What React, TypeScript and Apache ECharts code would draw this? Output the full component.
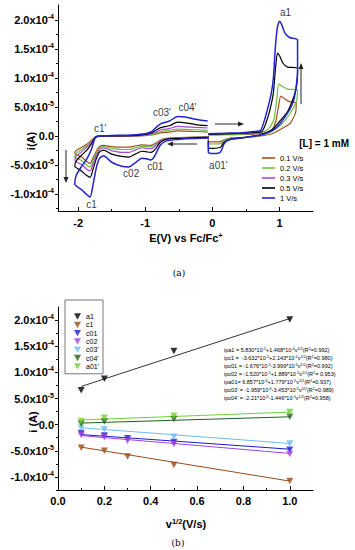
import React, { useEffect, useRef } from 'react';
import * as echarts from 'echarts';

const FONT = "'Liberation Sans', Arial, Helvetica, sans-serif";

// ---------- Panel (a): cyclic voltammograms, E (V vs Fc/Fc+), i in 1e-5 A ----------
const scanRates = ['0.1 V/s', '0.2 V/s', '0.3 V/s', '0.5 V/s', '1 V/s'];
const rateColors = ['#a4501e', '#6cc13c', '#a844e6', '#000000', '#2222d0'];

const cvLeft01 = [[-0.05,-0.1],[-0.3,-0.15],[-0.55,-0.25],[-0.7,-0.4],[-0.78,-0.7],[-0.84,-1.2],[-0.88,-1.45],[-0.92,-1.6],[-0.98,-1.55],[-1.05,-1.5],[-1.15,-1.7],[-1.24,-1.9],[-1.35,-1.9],[-1.5,-1.8],[-1.62,-1.6],[-1.68,-1.8],[-1.73,-2.6],[-1.78,-3.8],[-1.82,-4.7],[-1.87,-4.4],[-1.95,-3.6],[-2.05,-3.0],[-2.03,-2.5],[-1.96,-2.0],[-1.87,-1.4],[-1.8,-0.7],[-1.75,-0.2],[-1.7,0.0],[-1.2,0.0],[-1.0,0.1],[-0.9,0.2],[-0.83,0.4],[-0.76,0.6],[-0.64,0.7],[-0.52,0.9],[-0.4,0.85],[-0.25,0.8],[-0.07,0.7]];
const cvLeft02 = [[-0.05,-0.15],[-0.3,-0.2],[-0.55,-0.3],[-0.7,-0.45],[-0.78,-0.8],[-0.84,-1.4],[-0.88,-1.7],[-0.92,-1.85],[-0.98,-1.8],[-1.05,-1.75],[-1.15,-2.0],[-1.24,-2.3],[-1.35,-2.3],[-1.5,-2.1],[-1.62,-1.8],[-1.68,-2.0],[-1.73,-2.9],[-1.78,-4.3],[-1.82,-5.3],[-1.87,-5.0],[-1.95,-4.2],[-2.05,-3.6],[-2.03,-3.0],[-1.96,-2.4],[-1.87,-1.6],[-1.8,-0.8],[-1.75,-0.2],[-1.7,0.0],[-1.2,0.05],[-1.0,0.15],[-0.9,0.3],[-0.83,0.6],[-0.76,0.8],[-0.64,1.0],[-0.52,1.2],[-0.4,1.15],[-0.25,1.1],[-0.07,1.0]];
const cvLeft03 = [[-0.05,-0.2],[-0.3,-0.25],[-0.55,-0.35],[-0.7,-0.5],[-0.78,-0.9],[-0.84,-1.6],[-0.88,-2.0],[-0.92,-2.2],[-0.98,-2.1],[-1.05,-2.0],[-1.15,-2.4],[-1.24,-2.8],[-1.35,-2.8],[-1.5,-2.5],[-1.62,-2.0],[-1.68,-2.3],[-1.73,-3.3],[-1.78,-4.9],[-1.82,-6.0],[-1.87,-5.7],[-1.95,-4.9],[-2.05,-4.2],[-2.03,-3.5],[-1.96,-2.8],[-1.87,-1.9],[-1.8,-1.0],[-1.75,-0.2],[-1.7,0.0],[-1.2,0.05],[-1.0,0.2],[-0.9,0.45],[-0.83,0.8],[-0.76,1.1],[-0.64,1.3],[-0.52,1.7],[-0.4,1.6],[-0.25,1.5],[-0.07,1.4]];
const cvLeft05 = [[-0.05,-0.2],[-0.3,-0.3],[-0.55,-0.4],[-0.7,-0.6],[-0.78,-1.1],[-0.84,-2.1],[-0.88,-2.6],[-0.92,-2.8],[-0.98,-2.7],[-1.05,-2.6],[-1.15,-3.1],[-1.24,-3.6],[-1.35,-3.5],[-1.5,-3.1],[-1.62,-2.4],[-1.68,-2.7],[-1.73,-3.9],[-1.78,-5.8],[-1.82,-7.1],[-1.87,-6.8],[-1.95,-6.0],[-2.05,-5.2],[-2.03,-4.3],[-1.96,-3.4],[-1.87,-2.4],[-1.8,-1.3],[-1.75,-0.3],[-1.7,0.0],[-1.5,0.05],[-1.2,0.1],[-1.0,0.3],[-0.9,0.6],[-0.83,1.1],[-0.76,1.5],[-0.64,1.8],[-0.52,2.4],[-0.4,2.3],[-0.25,2.0],[-0.07,1.8]];
const cvLeft1 = [[-0.05,-0.3],[-0.3,-0.4],[-0.55,-0.6],[-0.7,-0.9],[-0.78,-1.6],[-0.84,-3.0],[-0.88,-3.8],[-0.92,-4.1],[-0.98,-3.9],[-1.05,-3.8],[-1.15,-4.6],[-1.24,-5.3],[-1.35,-5.2],[-1.5,-4.5],[-1.62,-3.4],[-1.68,-3.8],[-1.73,-5.5],[-1.78,-8.5],[-1.82,-10.5],[-1.87,-10.1],[-1.95,-9.2],[-2.05,-8.3],[-2.03,-6.8],[-1.96,-5.4],[-1.87,-3.9],[-1.8,-2.2],[-1.75,-0.4],[-1.7,0.0],[-1.5,0.1],[-1.2,0.2],[-1.0,0.4],[-0.9,0.8],[-0.83,1.6],[-0.76,2.2],[-0.64,2.6],[-0.52,3.4],[-0.4,3.3],[-0.25,2.9],[-0.07,2.6]];

const cvRight01 = [[-0.06,0.2],[0.2,0.25],[0.45,0.3],[0.65,0.4],[0.8,0.6],[0.9,1.3],[0.95,2.8],[0.99,5.4],[1.02,6.9],[1.07,6.5],[1.14,6.0],[1.25,5.7],[1.24,4.0],[1.16,2.2],[1.05,1.4],[0.91,0.5],[0.7,0.0],[0.5,-0.2],[0.3,-0.3],[0.22,-0.45],[0.16,-0.7],[0.12,-0.95],[0.0,-1.0],[-0.06,-0.95],[-0.06,-0.5]];
const cvRight02 = [[-0.06,0.25],[0.2,0.3],[0.45,0.35],[0.65,0.5],[0.78,0.8],[0.86,1.6],[0.92,3.0],[0.96,6.3],[0.99,9.0],[1.04,8.6],[1.12,8.1],[1.27,7.9],[1.25,5.9],[1.14,3.6],[1.02,1.9],[0.87,0.7],[0.7,0.1],[0.5,-0.2],[0.3,-0.35],[0.22,-0.5],[0.16,-0.9],[0.12,-1.3],[0.0,-1.35],[-0.06,-1.3],[-0.06,-0.6]];
const cvRight05 = [[-0.06,0.3],[0.2,0.4],[0.45,0.5],[0.62,0.6],[0.74,0.8],[0.8,2.3],[0.86,4.6],[0.91,7.5],[0.94,11.5],[0.97,14.3],[1.0,13.9],[1.05,12.6],[1.12,11.9],[1.27,11.7],[1.26,9.0],[1.22,7.0],[1.12,4.2],[1.0,2.5],[0.88,1.0],[0.7,0.2],[0.5,-0.2],[0.3,-0.45],[0.22,-0.7],[0.17,-1.1],[0.13,-1.8],[0.1,-2.0],[0.0,-2.1],[-0.06,-2.0],[-0.06,-0.8]];
const cvRight1 = [[-0.06,0.4],[0.2,0.5],[0.45,0.6],[0.62,0.8],[0.72,1.0],[0.77,2.5],[0.83,5.0],[0.88,7.5],[0.91,10],[0.94,15.5],[0.97,18.8],[1.0,19.8],[1.03,19.3],[1.08,17.8],[1.15,17.0],[1.27,16.6],[1.27,11],[1.22,6.5],[1.15,4.5],[1.08,3.3],[1.0,2.0],[0.9,1.0],[0.72,0.2],[0.5,-0.2],[0.3,-0.5],[0.22,-0.8],[0.17,-1.4],[0.13,-2.6],[0.1,-2.9],[0.0,-3.0],[-0.06,-2.8],[-0.06,-1.0]];

const cvLeft = [cvLeft01, cvLeft02, cvLeft03, cvLeft05, cvLeft1];
const cvRight = [cvRight01, cvRight02, null, cvRight05, cvRight1];

const eTicks = [-2, -1, 0, 1];
const eMinorTicks = [-1.5, -0.5, 0.5];

// Peak labels (text, E, i in 1e-5 A)
const peakLabels: [string, number, number][] = [
  ['a1', 1.09, 21.3], ["c1'", -1.67, 1.4], ["c03'", -0.75, 4.0], ["c04'", -0.37, 4.9],
  ['c02', -1.21, -6.5], ['c01', -0.85, -5.2], ['c1', -1.8, -11.7], ["a01'", 0.09, -5.0],
];

// ---------- Panel (b): peak currents vs v^1/2, i in 1e-5 A ----------
const bNames = ['a1', 'c1', 'c01', 'c02', "c03'", "c04'", "a01'"];
const bColors = ['#000000', '#9a4a18', '#1a1ad0', '#a040e0', '#6cbcf0', '#1f5f1f', '#72d030'];
const ptsA1 = [[0.1, 6.6], [0.2, 8.8], [0.5, 14.1], [1.0, 20.1]];
const ptsC1 = [[0.1, -4.4], [0.2, -5.0], [0.3, -6.1], [0.5, -7.7], [1.0, -10.8]];
const ptsC01 = [[0.1, -1.6], [0.2, -2.1], [0.3, -2.6], [0.5, -3.3], [1.0, -4.8]];
const ptsC02 = [[0.1, -2.0], [0.2, -2.4], [0.3, -3.1], [0.5, -3.7], [1.0, -5.6]];
const ptsC03 = [[0.1, -0.6], [0.2, -0.9], [0.5, -2.3], [1.0, -3.6]];
const ptsC04 = [[0.1, 0.2], [0.2, 0.6], [0.5, 1.1], [1.0, 1.5]];
const ptsA01 = [[0.1, 0.7], [0.2, 1.3], [0.5, 1.7], [1.0, 2.4]];
const fitA1 = [[0.1, 7.3], [1.0, 20.3]];
const fitC1 = [[0.1, -4.3], [1.0, -10.8]];
const fitC01 = [[0.1, -1.9], [1.0, -4.7]];
const fitC02 = [[0.1, -2.1], [1.0, -5.5]];
const fitC03 = [[0.1, -0.6], [1.0, -3.6]];
const fitC04 = [[0.1, 0.3], [1.0, 1.5]];
const fitA01 = [[0.1, 0.9], [1.0, 2.4]];
const bPoints = [ptsA1, ptsC1, ptsC01, ptsC02, ptsC03, ptsC04, ptsA01];
const bFits = [fitA1, fitC1, fitC01, fitC02, fitC03, fitC04, fitA01];
const vTicks = [0, 0.2, 0.4, 0.6, 0.8, 1.0];
const vMinorTicks = [0.1, 0.3, 0.5, 0.7, 0.9];

const equations = [
  'ipa1 = 5.830*10^{-5}+1.468*10^{-4}v^{1/2}(R^{2}=0.992)',
  'ipc1 =  -3.632*10^{-5}+2.143*10^{-5}v^{1/2}(R^{2}=0.980)',
  'ipc01 = -1.676*10^{-5}-3.999*10^{-5}v^{1/2}(R^{2}=0.992)',
  'ipc02 = -1.520*10^{-5}+1.889*10^{-5}v^{1/2}(R^{2}= 0.953)',
  'ipa01= 6.857*10^{-6}+1.779*10^{-5}v^{1/2}(R^{2}=0.937)',
  "ipc03' = -1.959*10^{-6}-3.453*10^{-5}v^{1/2}(R^{2}=0.989)",
  "ipc04' = -2.21*10^{-6}-1.446*10^{-5}v^{1/2}(R^{2}=0.958)",
];

// Shared current tick labels (value in 1e-5 A -> mantissa x 10^exp)
const iTicks = [-10, -5, 0, 5, 10, 15, 20];
const iTickMantissa = ['-1.0', '-5.0', '0.0', '5.0', '1.0', '1.5', '2.0'];
const iTickExponent = ['-4', '-5', '', '-5', '-4', '-4', '-4'];
const iMinorTicks = [-12.5, -7.5, -2.5, 2.5, 7.5, 12.5, 17.5];

const iLabel = (v: number) => {
  const k = iTicks.findIndex((t) => Math.abs(t - v) < 1e-6);
  if (k < 0) return '';
  return iTickExponent[k]
    ? `{m|${iTickMantissa[k]}x10}{s|${iTickExponent[k]}}`
    : `{m|${iTickMantissa[k]}}`;
};

const labelRich = {
  m: { fontSize: 11, fontWeight: 'bold', fontFamily: FONT, color: '#000', lineHeight: 14 },
  s: { fontSize: 7, fontWeight: 'bold', fontFamily: FONT, color: '#000', lineHeight: 7, verticalAlign: 'top' },
};

const toRich = (str: string) =>
  '{n|' + str.replace(/\^\{([^}]*)\}/g, '}{s|$1}{n|') + '}';

const mainAxisCommon = {
  type: 'value',
  axisLine: { show: true, onZero: false, lineStyle: { color: '#000', width: 1 } },
  splitLine: { show: false },
};
const minorAxisCommon = {
  type: 'value',
  axisLine: { show: false, onZero: false },
  splitLine: { show: false },
  axisLabel: { show: false },
};

const INV_TRIANGLE = 'path://M0,0 L10,0 L5,9 Z';

function buildOption() {
  const black = '#000';
  const xAxes: any[] = [
    {
      ...mainAxisCommon, gridIndex: 0, min: -2.3, max: 1.5, position: 'bottom',
      axisTick: { show: true, inside: true, length: 4, customValues: eTicks, lineStyle: { color: black } },
      axisLabel: { customValues: eTicks, margin: 6, fontSize: 11, fontWeight: 'bold', fontFamily: FONT, color: black },
    },
    {
      ...minorAxisCommon, gridIndex: 0, min: -2.3, max: 1.5, position: 'bottom',
      axisTick: { show: true, inside: true, length: 2, customValues: eMinorTicks, lineStyle: { color: black } },
    },
    {
      ...mainAxisCommon, gridIndex: 1, min: 0, max: 1.1, position: 'bottom',
      axisTick: { show: true, inside: true, length: 4, customValues: vTicks, lineStyle: { color: black } },
      axisLabel: {
        customValues: vTicks, margin: 5, fontSize: 11, fontWeight: 'bold', fontFamily: FONT, color: black,
        formatter: (v: number) => v.toFixed(1),
      },
    },
    {
      ...minorAxisCommon, gridIndex: 1, min: 0, max: 1.1, position: 'bottom',
      axisTick: { show: true, inside: true, length: 2, customValues: vMinorTicks, lineStyle: { color: black } },
    },
  ];
  const yAxes: any[] = [
    {
      ...mainAxisCommon, gridIndex: 0, min: -12.9, max: 22.6, position: 'left',
      axisTick: { show: true, inside: false, length: 3, customValues: iTicks, lineStyle: { color: black } },
      axisLabel: { customValues: iTicks, margin: 4, formatter: iLabel, rich: labelRich },
    },
    {
      ...minorAxisCommon, gridIndex: 0, min: -12.9, max: 22.6, position: 'left', offset: 0,
      axisTick: { show: true, inside: false, length: 2, customValues: iMinorTicks, lineStyle: { color: black } },
    },
    {
      ...mainAxisCommon, gridIndex: 1, min: -12.5, max: 22.5, position: 'left',
      axisTick: { show: true, inside: false, length: 3, customValues: iTicks, lineStyle: { color: black } },
      axisLabel: { customValues: iTicks, margin: 4, formatter: iLabel, rich: labelRich },
    },
    {
      ...minorAxisCommon, gridIndex: 1, min: -12.5, max: 22.5, position: 'left', offset: 0,
      axisTick: { show: true, inside: false, length: 2, customValues: iMinorTicks, lineStyle: { color: black } },
    },
  ];

  const series: any[] = [];
  scanRates.forEach((name, k) => {
    const color = rateColors[k];
    const width = k === 4 ? 1.5 : 1.2;
    [cvLeft[k], cvRight[k]].forEach((data) => {
      if (!data) return;
      series.push({
        type: 'line', name, xAxisIndex: 0, yAxisIndex: 0, data,
        symbol: 'none', showSymbol: false, smooth: 0.2, color,
        lineStyle: { color, width }, itemStyle: { color }, z: 2 + k,
      });
    });
  });
  bNames.forEach((name, k) => {
    const color = bColors[k];
    series.push({
      type: 'line', name: name + ' fit', xAxisIndex: 2, yAxisIndex: 2, data: bFits[k],
      symbol: 'none', lineStyle: { color: k === 0 ? '#333' : color, width: 1 }, itemStyle: { color }, z: 2,
    });
  });
  bNames.forEach((name, k) => {
    const color = bColors[k];
    series.push({
      type: 'scatter', name, xAxisIndex: 2, yAxisIndex: 2, data: bPoints[k],
      symbol: INV_TRIANGLE, symbolSize: [7, 6.5], itemStyle: { color }, z: 3,
    });
  });

  const arrowColor = '#222';
  const arrow = (x1: number, y1: number, x2: number, y2: number) => {
    const dx = x2 - x1, dy = y2 - y1;
    const len = Math.hypot(dx, dy);
    const ux = dx / len, uy = dy / len;
    const hx = x2 - ux * 6, hy = y2 - uy * 6;
    return [
      { type: 'line', shape: { x1, y1, x2: hx, y2: hy }, style: { stroke: arrowColor, lineWidth: 1 } },
      {
        type: 'polygon',
        shape: { points: [[x2, y2], [hx - uy * 2.5, hy + ux * 2.5], [hx + uy * 2.5, hy - ux * 2.5]] },
        style: { fill: arrowColor },
      },
    ];
  };

  const textRich = {
    n: { fontSize: 5.5, fontFamily: FONT, color: '#222', lineHeight: 7 },
    s: { fontSize: 3.8, fontFamily: FONT, color: '#222', lineHeight: 4, verticalAlign: 'top' },
  };
  const titleRich = {
    b: { fontSize: 11, fontWeight: 'bold', fontFamily: FONT, color: '#000', lineHeight: 14 },
    s: { fontSize: 7.5, fontWeight: 'bold', fontFamily: FONT, color: '#000', lineHeight: 7, verticalAlign: 'top' },
  };

  const graphic: any[] = [
    { type: 'text', x: 31, y: 141, rotation: Math.PI / 2, style: { text: 'i(A)', font: `bold 11px ${FONT}`, fill: '#000', align: 'center', verticalAlign: 'middle' } },
    { type: 'text', x: 186, y: 238, style: { text: '{b|E(V) vs Fc/Fc}{s|+}', rich: titleRich, align: 'center', verticalAlign: 'middle' } },
    { type: 'text', x: 179, y: 273, style: { text: '(a)', font: '9px "DejaVu Serif", "Liberation Serif", serif', fill: '#000', align: 'center', verticalAlign: 'middle' } },
    { type: 'text', x: 33, y: 422, rotation: Math.PI / 2, style: { text: 'i (A)', font: `bold 11px ${FONT}`, fill: '#000', align: 'center', verticalAlign: 'middle' } },
    { type: 'text', x: 186, y: 524, style: { text: '{b|v}{s|1/2}{b|(V/s)}', rich: titleRich, align: 'center', verticalAlign: 'middle' } },
    { type: 'text', x: 178, y: 543, style: { text: '(b)', font: '9px "DejaVu Serif", "Liberation Serif", serif', fill: '#000', align: 'center', verticalAlign: 'middle' } },
    { type: 'text', x: 349, y: 143, style: { text: '[L] = 1 mM', font: `bold 10px ${FONT}`, fill: '#000', align: 'right', verticalAlign: 'middle' } },
    ...arrow(66, 150, 66, 183),
    ...arrow(301, 104, 301, 63),
    ...arrow(215, 124, 244, 124),
    ...arrow(197, 144, 167, 144),
    ...equations.map((eq, k) => ({
      type: 'text', x: 224, y: 350 + k * 8,
      style: { text: toRich(eq), rich: textRich, align: 'left', verticalAlign: 'middle' },
    })),
  ];

  return {
    animation: false,
    backgroundColor: '#fff',
    grid: [
      { left: 58, top: 5, width: 255, height: 206, outerBoundsMode: 'none' },
      { left: 58, top: 307, width: 255, height: 183, outerBoundsMode: 'none' },
    ],
    xAxis: xAxes,
    yAxis: yAxes,
    legend: [
      {
        data: scanRates, orient: 'vertical', left: 262, top: 154, padding: 0,
        icon: 'rect', itemWidth: 13, itemHeight: 1.6, itemGap: 2, selectedMode: false,
        textStyle: { fontSize: 7.5, fontFamily: FONT, color: '#000', lineHeight: 8 },
      },
      {
        data: bNames, orient: 'vertical', left: 65, top: 300, padding: [13, 4, 4, 9],
        icon: INV_TRIANGLE, itemWidth: 7, itemHeight: 6.5, itemGap: 1.3, selectedMode: false,
        borderColor: '#777', borderWidth: 1,
        textStyle: { fontSize: 7, fontFamily: FONT, color: '#000', lineHeight: 7 },
      },
    ],
    series: [
      ...series,
      {
        type: 'scatter', xAxisIndex: 0, yAxisIndex: 0, silent: true, symbolSize: 0,
        data: peakLabels.map(([t, e, i]) => ({ value: [e, i], name: t })),
        label: {
          show: true, position: 'inside', formatter: (p: any) => p.name,
          fontSize: 10, fontFamily: FONT, color: '#000',
        },
        z: 10,
      },
    ],
    graphic,
  };
}

export default function App() {
  const ref = useRef<HTMLDivElement>(null);
  useEffect(() => {
    if (!ref.current) return;
    const chart = echarts.init(ref.current, null, { renderer: 'svg' });
    chart.setOption(buildOption() as any);
    return () => chart.dispose();
  }, []);
  return (
    <div
      ref={ref}
      style={{ position: 'absolute', left: 0, top: 0, width: 355, height: 550, background: '#fff' }}
    />
  );
}
